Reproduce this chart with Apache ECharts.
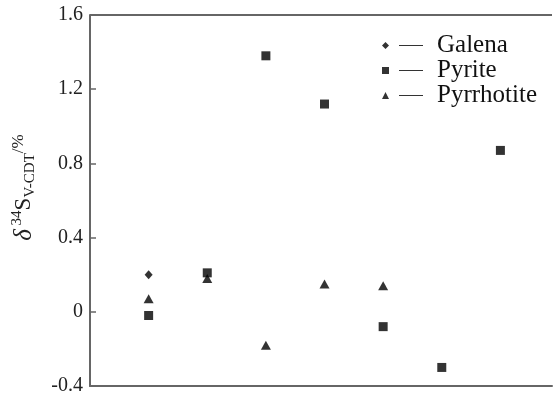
<!DOCTYPE html>
<html>
<head>
<meta charset="utf-8">
<script src="https://cdn.jsdelivr.net/npm/echarts@6/dist/echarts.min.js"></script>
<style>
  html, body { margin: 0; padding: 0; background: #fff; }
  #main { width: 557px; height: 396px; }
</style>
</head>
<body>
<div id="main"></div>
<script>
// sample positions along the x axis (no labels in the figure)
const samples = [1, 2, 3, 4, 5, 6, 7];
// δ34S values, ‰
const galena = [0.20];
const pyrite = [-0.02, 0.21, 1.38, 1.12, -0.08, -0.30, 0.87];
const pyrrhotite = [0.07, 0.18, -0.18, 0.15, 0.14];
const yTicks = [-0.4, 0, 0.4, 0.8, 1.2, 1.6];

const pair = (vals) => vals.map((v, i) => [samples[i], v]);

// legend icons: marker + short dash
const iconDiamond = 'path://M0 4 L3.5 0.5 L7 4 L3.5 7.5 Z M17 3.4 H41 V4.6 H17 Z M0 0 Z M0 8 Z';
const iconSquare = 'path://M0 0.5 H7 V7.5 H0 Z M17 3.4 H41 V4.6 H17 Z M0 0 Z M0 8 Z';
const iconTriangle = 'path://M0 7.5 L3.5 0.5 L7 7.5 Z M17 3.4 H41 V4.6 H17 Z M0 0 Z M0 8 Z';

const myChart = echarts.init(document.getElementById('main'));
const serif = 'Liberation Serif';

const option = {
  animation: false,
  grid: { left: 90, right: 5, top: 15, bottom: 6 },
  legend: {
    orient: 'vertical',
    left: 377,
    top: 28,
    itemWidth: 41,
    itemHeight: 8,
    itemGap: 0,
    textStyle: { fontFamily: serif, fontSize: 25, lineHeight: 24, color: '#111', padding: [0, 0, 0, 9] },
    data: [
      { name: 'Galena', icon: iconDiamond },
      { name: 'Pyrite', icon: iconSquare },
      { name: 'Pyrrhotite', icon: iconTriangle }
    ]
  },
  xAxis: {
    type: 'value',
    min: 0,
    max: 7.88,
    axisLine: { onZero: false, lineStyle: { color: '#666', width: 2 } },
    axisTick: { show: false },
    axisLabel: { show: false },
    splitLine: { show: false }
  },
  yAxis: {
    type: 'value',
    min: -0.4,
    max: 1.6,
    interval: 0.4,
    name: '{d|δ}{sup| 34}{s|S}{sub|V-CDT}{sup2|/%}',
    nameLocation: 'middle',
    nameRotate: 90,
    nameGap: 52,
    nameTextStyle: {
      padding: [0, 0, 0, 26],
      rich: {
        d: { fontFamily: serif, fontSize: 25, fontStyle: 'italic', color: '#222', lineHeight: 28 },
        s: { fontFamily: serif, fontSize: 23, color: '#222', lineHeight: 28 },
        sup: { fontFamily: serif, fontSize: 15, color: '#222', verticalAlign: 'top', lineHeight: 28 },
        sup2: { fontFamily: serif, fontSize: 17, color: '#222', verticalAlign: 'top', lineHeight: 28 },
        sub: { fontFamily: serif, fontSize: 15, color: '#222', verticalAlign: 'bottom', lineHeight: 28 }
      }
    },
    axisLine: { show: true, lineStyle: { color: '#666', width: 2 } },
    axisTick: { show: true, inside: true, length: 6, lineStyle: { color: '#666', width: 1.5 } },
    axisLabel: {
      fontFamily: serif,
      fontSize: 20,
      color: '#222',
      margin: 7,
      formatter: (v) => {
        const t = yTicks.find((k) => Math.abs(k - v) < 1e-6);
        return t === undefined ? '' : (t === 0 ? '0' : t.toFixed(1));
      }
    },
    splitLine: { show: false }
  },
  series: [
    {
      name: 'Galena',
      type: 'scatter',
      symbol: 'diamond',
      symbolSize: [8, 9],
      itemStyle: { color: '#000' },
      data: pair(galena)
    },
    {
      name: 'Pyrite',
      type: 'scatter',
      symbol: 'rect',
      symbolSize: 9,
      itemStyle: { color: '#000' },
      data: pair(pyrite)
    },
    {
      name: 'Pyrrhotite',
      type: 'scatter',
      symbol: 'triangle',
      symbolSize: [10, 9],
      itemStyle: { color: '#000' },
      data: pair(pyrrhotite)
    }
  ],
  graphic: [
    // top frame line
    {
      type: 'line',
      shape: { x1: 90, y1: 15, x2: 552, y2: 15 },
      style: { stroke: '#666', lineWidth: 2 }
    }
  ]
};

option && myChart.setOption(option);
</script>
</body>
</html>
